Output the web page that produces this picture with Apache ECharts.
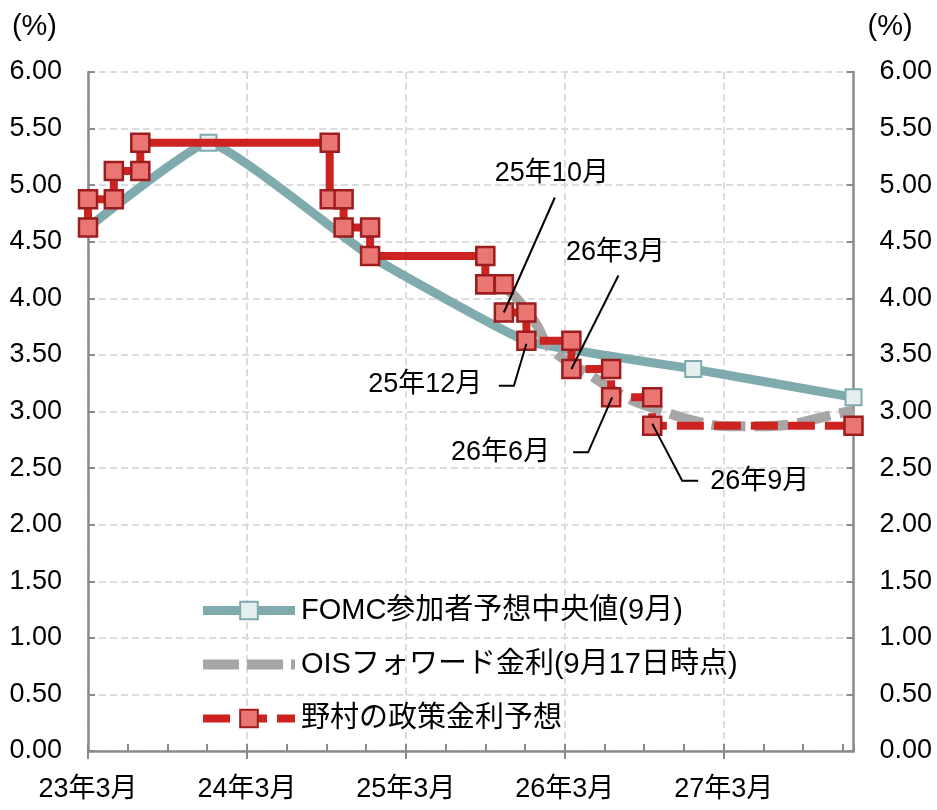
<!DOCTYPE html>
<html><head><meta charset="utf-8">
<script src="https://cdn.jsdelivr.net/npm/echarts@6/dist/echarts.min.js"></script>
<style>html,body{margin:0;padding:0;background:#fff}#c{width:937px;height:810px}</style>
</head><body><div id="c"></div>
<script>
// x values: months since 2023-03 (0 = 23年3月)
const xTickLabels = ['23年3月', '24年3月', '25年3月', '26年3月', '27年3月'];
const seriesNames = ['FOMC参加者予想中央値(9月)', 'OISフォワード金利(9月17日時点)', '野村の政策金利予想'];

const fomcX = [0, 9.1, 21.3, 33.1, 45.7, 57.8];
const fomcY = [4.625, 5.375, 4.375, 3.625, 3.375, 3.125];

const oisX = [31.4, 32.2, 33.8, 34.9, 38.2, 40.7, 43.2, 45.7, 48.3, 50.8, 53.3, 55.8, 57.8];
const oisY = [4.10, 4.02, 3.78, 3.56, 3.30, 3.12, 3.01, 2.92, 2.87, 2.87, 2.89, 2.96, 3.01];

const nomuraHistX = [0, 0, 1.95, 1.95, 3.95, 3.95, 18.25, 18.25, 19.3, 19.3, 21.3, 21.3, 30.0, 30.0];
const nomuraHistY = [4.625, 4.875, 4.875, 5.125, 5.125, 5.375, 5.375, 4.875, 4.875, 4.625, 4.625, 4.375, 4.375, 4.125];

const nomuraFcX = [30.0, 31.4, 31.4, 33.1, 33.1, 36.5, 36.5, 39.5, 39.5, 42.6, 42.6, 57.8];
const nomuraFcY = [4.125, 4.125, 3.875, 3.875, 3.625, 3.625, 3.375, 3.375, 3.125, 3.125, 2.875, 2.875];

const annoLabels = ['25年10月', '25年12月', '26年3月', '26年6月', '26年9月'];
const annoX = [31.4, 33.1, 36.5, 39.5, 42.6];
const annoY = [3.875, 3.625, 3.375, 3.125, 2.875];

const yMin = 0, yMax = 6, yStep = 0.5;
const xMin = 0, xMax = 57.8;

// ---- layout / style (not data) ----
const FONT = "'Liberation Sans','Noto Sans CJK JP',sans-serif";
const FS = 27;
const annoLayout = [
  { line: [[0, 0], [51, -115]], text: [48, -139], align: 'center' },
  { line: [[0, 3], [-12.5, 45], [-27.5, 45]], text: [-44, 44], align: 'right' },
  { line: [[0, 0], [47, -93.5]], text: [44, -116.5], align: 'center' },
  { line: [[1, 0], [-23, 55], [-38, 55]], text: [-61, 55], align: 'right' },
  { line: [[0, -2], [30, 55], [46, 55]], text: [58, 56], align: 'left' }
];
const AXIS_COLOR = '#8a8a8a';
const GRID_COLOR = '#dcdcdc';
const TEAL = '#7faaae';
const RED = '#cc2320';
const GRAY = '#a6a6a6';

const zip = (xs, ys) => xs.map((x, i) => [x, ys[i]]);

const chart = echarts.init(document.getElementById('c'), null, { renderer: 'canvas' });

const yAxisCommon = {
  type: 'value', min: yMin, max: yMax, interval: yStep,
  axisLine: { show: true, onZero: false, lineStyle: { color: AXIS_COLOR, width: 2.5 } },
  axisTick: { show: true, inside: true, length: 7, lineStyle: { color: AXIS_COLOR, width: 2 } },
  axisLabel: { margin: 26, color: '#000', fontSize: FS, fontFamily: FONT, formatter: v => v.toFixed(2) },
  nameTextStyle: { color: '#000', fontSize: 29, fontFamily: FONT }
};

const option = {
  animation: false,
  backgroundColor: '#fff',
  textStyle: { fontFamily: FONT },
  grid: { left: 88, right: 83.5, top: 72, bottom: 59, containLabel: false },
  xAxis: [
    {
      type: 'value', min: xMin, max: xMax, interval: 3, position: 'bottom',
      axisLine: { show: true, onZero: false, lineStyle: { color: AXIS_COLOR, width: 2.5 } },
      axisTick: { show: true, inside: true, length: 7, lineStyle: { color: AXIS_COLOR, width: 2 } },
      axisLabel: { show: false },
      splitLine: { show: false }
    },
    {
      type: 'value', min: xMin, max: xMax, interval: 12, position: 'bottom',
      axisLine: { show: false, onZero: false },
      axisTick: { show: true, inside: false, length: 8, customValues: [0, 12, 24, 36, 48], lineStyle: { color: AXIS_COLOR, width: 2 } },
      axisLabel: {
        margin: 25, color: '#000', fontSize: FS, fontFamily: FONT,
        customValues: [0, 12, 24, 36, 48],
        formatter: v => (Math.abs(v % 12) < 1e-6 && xTickLabels[v / 12]) ? xTickLabels[v / 12] : ''
      },
      splitLine: { show: true, lineStyle: { color: GRID_COLOR, width: 2, type: [7, 4] } }
    }
  ],
  yAxis: [
    Object.assign({}, yAxisCommon, {
      position: 'left', name: '(%)', nameLocation: 'end', nameGap: 30,
      nameTextStyle: Object.assign({}, yAxisCommon.nameTextStyle, { align: 'right', padding: [0, 31, 0, 0] }),
      splitLine: { show: true, lineStyle: { color: GRID_COLOR, width: 2, type: [7, 4] } }
    }),
    Object.assign({}, yAxisCommon, {
      position: 'right', name: '(%)', nameLocation: 'end', nameGap: 30,
      nameTextStyle: Object.assign({}, yAxisCommon.nameTextStyle, { align: 'left', padding: [0, 0, 0, 14] }),
      splitLine: { show: false }
    })
  ],
  legend: {
    orient: 'vertical', left: 198, top: 596, padding: 0,
    itemWidth: 92, itemHeight: 22, itemGap: 25,
    textStyle: { color: '#000', fontSize: 29, fontFamily: FONT, padding: [0, 0, 0, 1] },
    selectedMode: false,
    data: [
      { name: seriesNames[0], lineStyle: { width: 9, color: TEAL } },
      { name: seriesNames[1], itemStyle: { opacity: 0 }, lineStyle: { width: 10, color: GRAY, type: [36, 8] } },
      { name: seriesNames[2], lineStyle: { width: 8, color: RED, type: [27, 10] } }
    ]
  },
  series: [
    {
      name: seriesNames[0], type: 'line', data: zip(fomcX, fomcY),
      xAxisIndex: 0, yAxisIndex: 0, smooth: 0.12, clip: false,
      symbol: 'rect', symbolSize: 16, showAllSymbol: true,
      lineStyle: { color: TEAL, width: 9 },
      itemStyle: { color: '#e6eff0', borderColor: TEAL, borderWidth: 2 },
      emphasis: { disabled: true }, z: 2
    },
    {
      name: seriesNames[1], type: 'line', data: zip(oisX, oisY),
      xAxisIndex: 0, yAxisIndex: 0, smooth: 0.4, clip: false,
      symbol: 'none', showSymbol: false,
      lineStyle: { color: GRAY, width: 10, type: [34, 9] },
      itemStyle: { color: GRAY },
      emphasis: { disabled: true }, z: 3
    },
    {
      name: seriesNames[2], type: 'line', data: zip(nomuraFcX, nomuraFcY),
      xAxisIndex: 0, yAxisIndex: 0, clip: false,
      symbol: 'rect', symbolSize: 18, showAllSymbol: true,
      lineStyle: { color: RED, width: 8, type: [27, 10] },
      itemStyle: { color: '#ea7674', borderColor: '#9e1c1c', borderWidth: 2.5 },
      emphasis: { disabled: true }, z: 4
    },
    {
      name: seriesNames[2], type: 'line', data: zip(nomuraHistX, nomuraHistY),
      xAxisIndex: 0, yAxisIndex: 0, clip: false,
      symbol: 'rect', symbolSize: 18, showAllSymbol: true,
      lineStyle: { color: RED, width: 8 },
      itemStyle: { color: '#ea7674', borderColor: '#9e1c1c', borderWidth: 2.5 },
      emphasis: { disabled: true }, z: 4
    }
  ]
};

chart.setOption(option);

const graphics = [];
annoLabels.forEach((label, i) => {
  const p = chart.convertToPixel({ xAxisIndex: 0, yAxisIndex: 0 }, [annoX[i], annoY[i]]);
  const L = annoLayout[i];
  graphics.push({
    type: 'polyline', silent: true, z: 100,
    shape: { points: L.line.map(o => [p[0] + o[0], p[1] + o[1]]) },
    style: { stroke: '#000', lineWidth: 2, fill: null }
  });
  graphics.push({
    type: 'text', silent: true, z: 100,
    x: p[0] + L.text[0], y: p[1] + L.text[1],
    style: {
      text: label, fontSize: FS, fontFamily: FONT, fill: '#000',
      align: L.align, verticalAlign: 'middle', textAlign: L.align, textVerticalAlign: 'middle'
    }
  });
});
chart.setOption({ graphic: graphics });
</script>
</body></html>
